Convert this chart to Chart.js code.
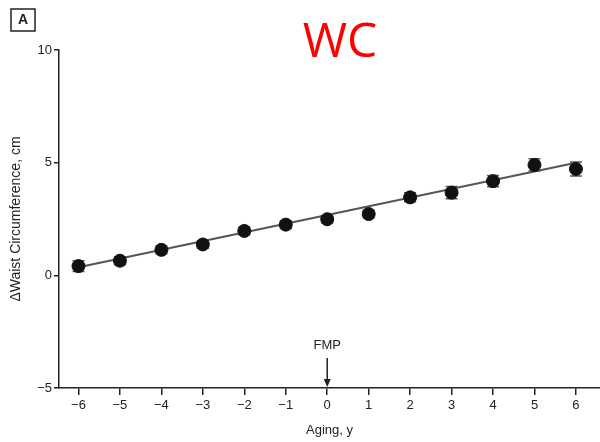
<!DOCTYPE html>
<html>
<head>
<meta charset="utf-8">
<script src="https://cdn.jsdelivr.net/npm/chart.js@4.4.1/dist/chart.umd.min.js"></script>
<style>
  html, body { margin: 0; padding: 0; background: #fff; }
</style>
</head>
<body>
<canvas id="myChart" width="600" height="442"></canvas>
<script>
// years relative to the final menstrual period
const years = [-6, -5, -4, -3, -2, -1, 0, 1, 2, 3, 4, 5, 6];
// mean change in waist circumference (cm) and its error
const waistMean = [0.41, 0.65, 1.13, 1.37, 1.97, 2.25, 2.49, 2.72, 3.46, 3.67, 4.18, 4.9, 4.72];
const waistErr = [0.24, 0.18, 0.17, 0.17, 0.17, 0.17, 0.17, 0.17, 0.2, 0.27, 0.25, 0.27, 0.31];
// fitted trend, end points
const fitYears = [-6, 6];
const fitValues = [0.36, 5.0];
const xTicks = [-6, -5, -4, -3, -2, -1, 0, 1, 2, 3, 4, 5, 6];
const yTicks = [-5, 0, 5, 10];

const sans = "'Liberation Sans', Arial, sans-serif";

// error bars, drawn under the dots
const errorBars = {
  id: 'errorBars',
  beforeDatasetsDraw(chart) {
    const ctx = chart.ctx;
    const xs = chart.scales.x;
    const ys = chart.scales.y;
    ctx.save();
    ctx.strokeStyle = '#555';
    ctx.lineWidth = 1.5;
    for (let i = 0; i < years.length; i++) {
      const px = xs.getPixelForValue(years[i]);
      const top = ys.getPixelForValue(waistMean[i] + waistErr[i]);
      const bot = ys.getPixelForValue(waistMean[i] - waistErr[i]);
      ctx.beginPath();
      ctx.moveTo(px, top); ctx.lineTo(px, bot);
      ctx.moveTo(px - 6, top); ctx.lineTo(px + 6, top);
      ctx.moveTo(px - 6, bot); ctx.lineTo(px + 6, bot);
      ctx.stroke();
    }
    ctx.restore();
  }
};

// panel letter, title and FMP marker
const extras = {
  id: 'extras',
  afterDraw(chart) {
    const ctx = chart.ctx;
    const xs = chart.scales.x;
    const ys = chart.scales.y;
    ctx.save();
    ctx.strokeStyle = '#222';
    ctx.lineWidth = 1.5;
    ctx.strokeRect(11, 9, 24, 22);
    ctx.fillStyle = '#222';
    ctx.font = 'bold 14px ' + sans;
    ctx.textAlign = 'center';
    ctx.textBaseline = 'middle';
    ctx.fillText('A', 23, 20.5);

    ctx.fillStyle = '#ff0000';
    ctx.font = '48px "Open Sans", sans-serif';
    ctx.textBaseline = 'alphabetic';
    ctx.fillText('WC', 340, 57);

    const fx = xs.getPixelForValue(0);
    ctx.fillStyle = '#222';
    ctx.font = '13px ' + sans;
    ctx.textBaseline = 'middle';
    ctx.fillText('FMP', fx, 345);
    const yb = ys.getPixelForValue(-5);
    ctx.beginPath();
    ctx.moveTo(fx, 358); ctx.lineTo(fx, yb - 4);
    ctx.stroke();
    ctx.beginPath();
    ctx.moveTo(fx - 3.5, yb - 9); ctx.lineTo(fx + 3.5, yb - 9); ctx.lineTo(fx, yb - 1);
    ctx.closePath();
    ctx.fill();
    ctx.restore();
  }
};

const myChart = document.getElementById('myChart');

new Chart(myChart, {
  type: 'scatter',
  data: {
    datasets: [
      {
        data: years.map((x, i) => ({ x: x, y: waistMean[i] })),
        backgroundColor: '#111',
        borderColor: '#111',
        pointRadius: 6.5,
        order: 0
      },
      {
        type: 'line',
        data: fitYears.map((x, i) => ({ x: x, y: fitValues[i] })),
        borderColor: '#555',
        borderWidth: 2,
        pointRadius: 0,
        order: 1
      }
    ]
  },
  options: {
    responsive: false,
    animation: false,
    layout: { autoPadding: false, padding: { top: 50, right: 0, left: 0, bottom: 0 } },
    plugins: {
      legend: { display: false },
      tooltip: { enabled: false }
    },
    scales: {
      x: {
        type: 'linear',
        min: -6.47,
        max: 6.58,
        afterBuildTicks: s => { s.ticks = xTicks.map(v => ({ value: v })); },
        // let the axis run to the right edge
        afterFit: s => { s.height = 54; s.paddingRight = 0; s.paddingLeft = 0; },
        grid: { drawOnChartArea: false, tickLength: 7, color: '#222', lineWidth: 1.5 },
        border: { color: '#222', width: 1.5 },
        ticks: {
          color: '#222',
          font: { family: sans, size: 13 },
          padding: 3,
          maxRotation: 0,
          callback: v => (v < 0 ? '\u2212' + Math.abs(v) : String(v))
        },
        title: {
          display: true,
          text: 'Aging, y',
          color: '#222',
          font: { family: sans, size: 13 },
          padding: { top: 4 }
        }
      },
      y: {
        min: -5,
        max: 10,
        afterBuildTicks: s => { s.ticks = yTicks.map(v => ({ value: v })); },
        afterFit: s => { s.width = 59; },
        grid: { drawOnChartArea: false, tickLength: 5, color: '#222', lineWidth: 1.5 },
        border: { color: '#222', width: 1.5 },
        ticks: {
          color: '#222',
          font: { family: sans, size: 13 },
          padding: 2,
          callback: v => (v < 0 ? '\u2212' + Math.abs(v) : String(v))
        },
        title: {
          display: true,
          text: '\u0394Waist Circumference, cm',
          color: '#222',
          font: { family: sans, size: 14 },
          padding: { top: 8, bottom: 0 }
        }
      }
    }
  },
  plugins: [errorBars, extras]
});
</script>
</body>
</html>
